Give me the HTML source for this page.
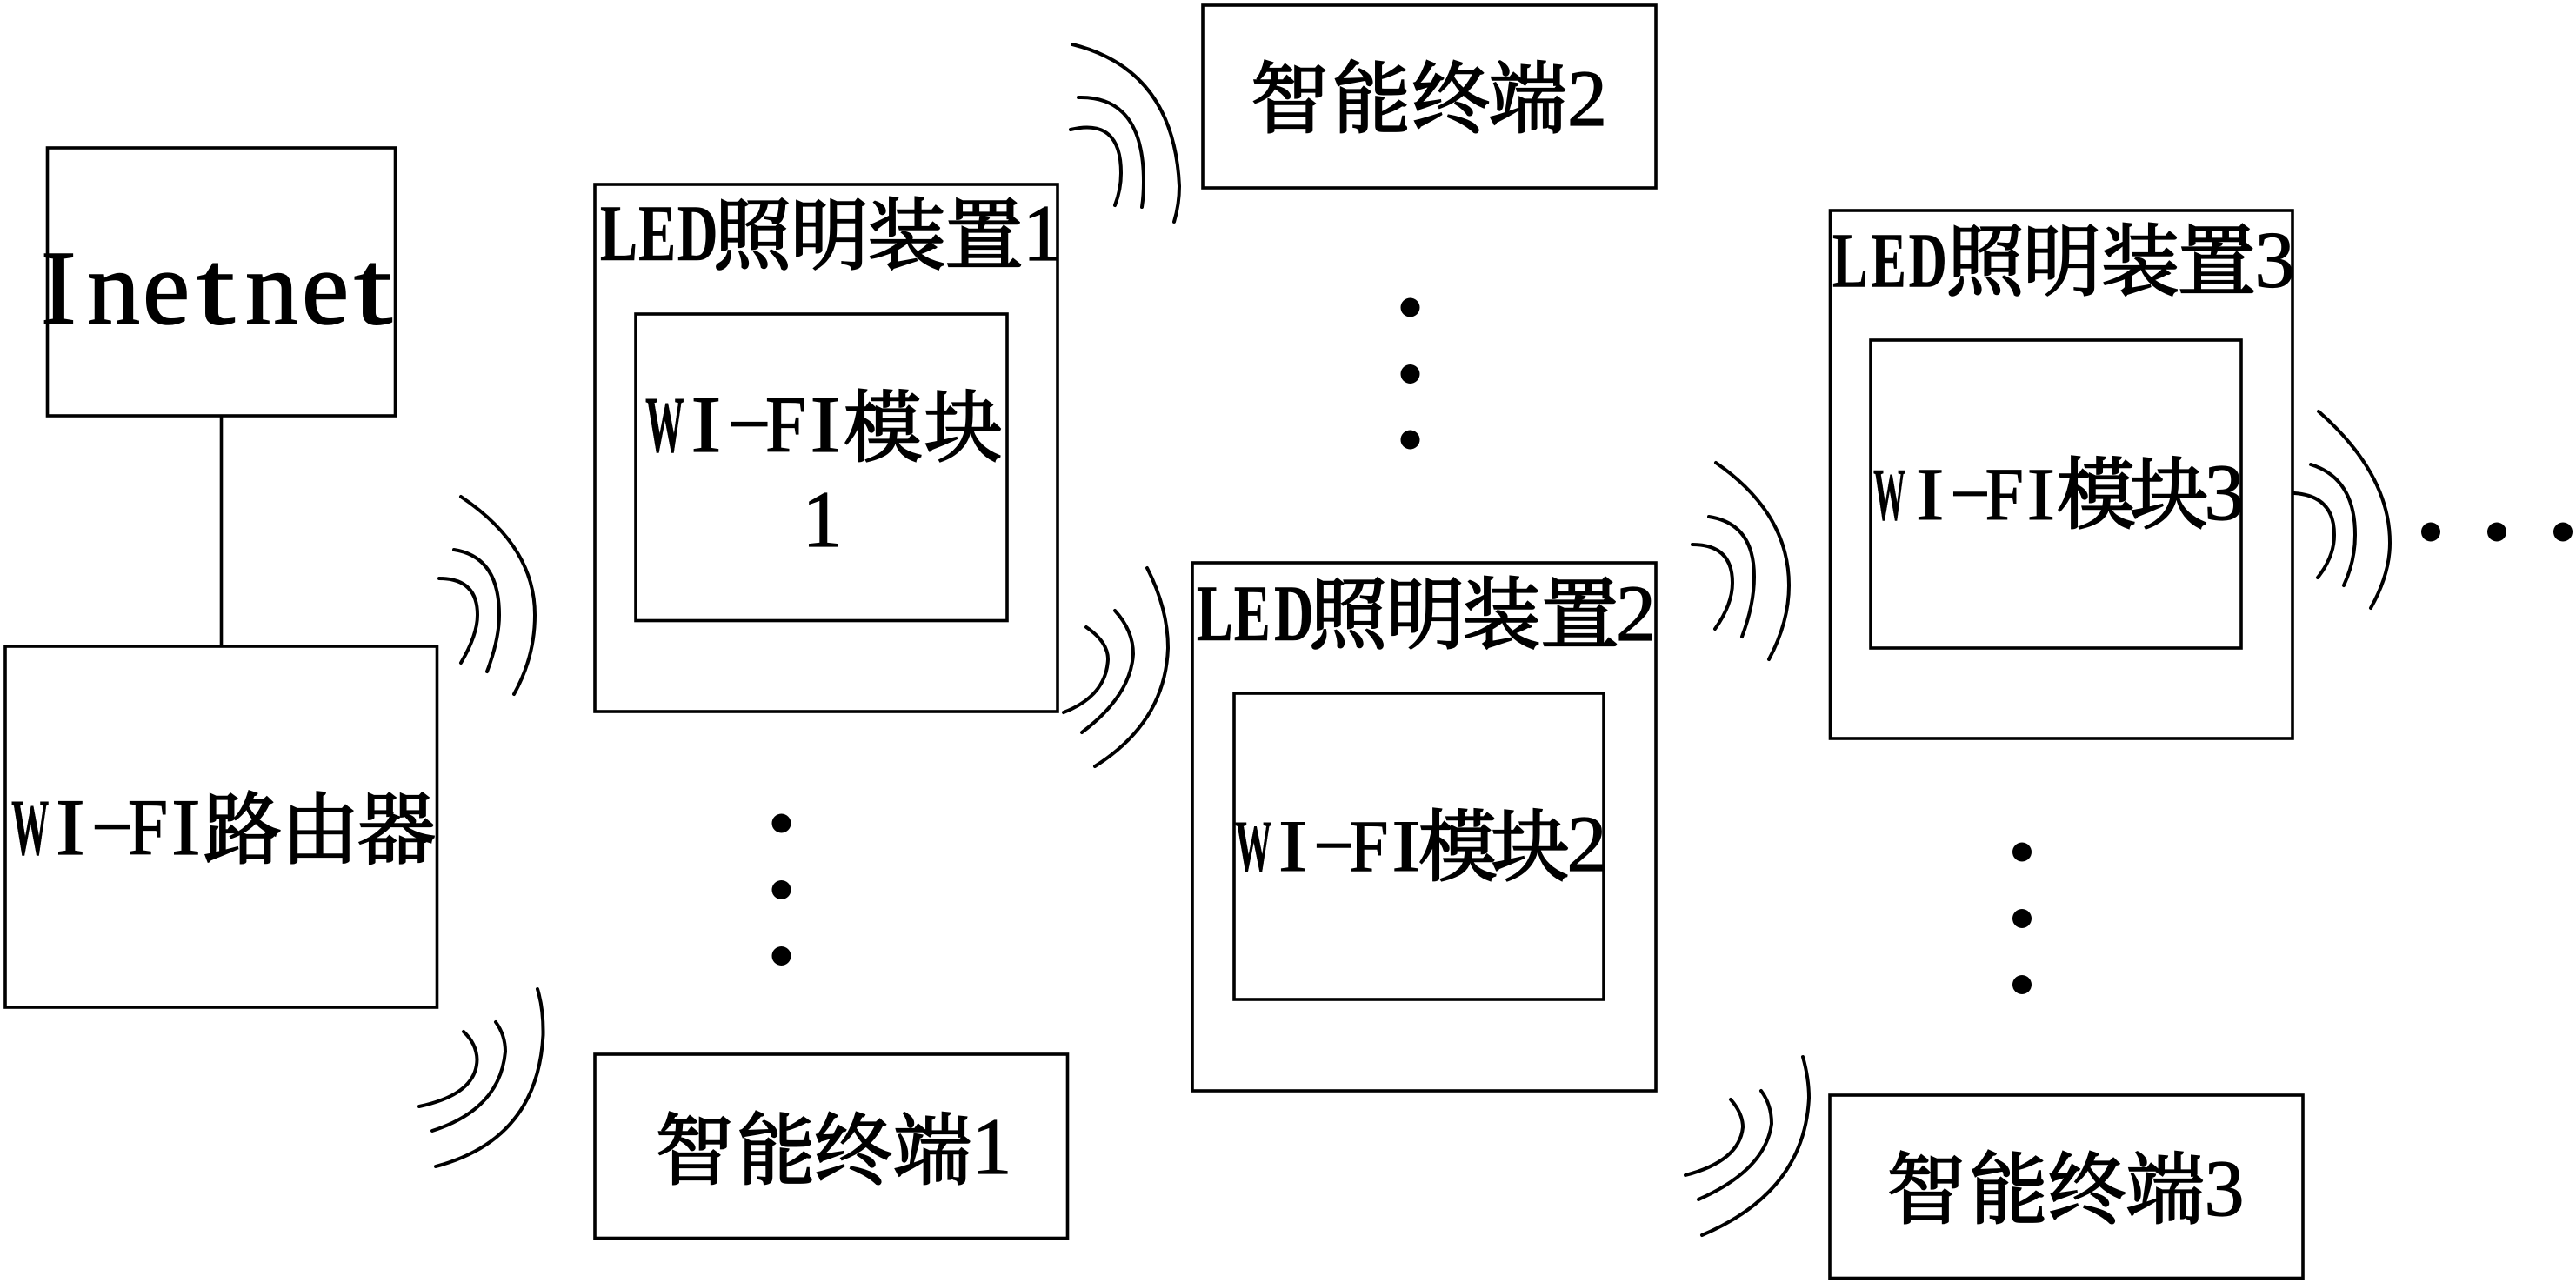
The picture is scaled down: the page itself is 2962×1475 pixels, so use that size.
<!DOCTYPE html>
<html lang="zh">
<head>
<meta charset="utf-8">
<title>LED Wi-Fi diagram</title>
<style>
html,body{margin:0;padding:0;background:#fff;width:2962px;height:1475px;overflow:hidden}
svg{display:block}
.b{fill:none;stroke:#000;stroke-width:3.6}
.a{fill:none;stroke:#000;stroke-width:4;stroke-linecap:round}
.c{font-family:"Noto Serif CJK SC","Liberation Serif",serif;font-size:90px;text-anchor:middle;fill:#000;stroke:#000;stroke-width:2.2}
.l{font-family:"Liberation Serif",serif;font-size:92px;fill:#000;stroke:#000;stroke-width:1.2}
.w{font-weight:bold;stroke-width:.6}
.h{stroke-width:0}
.d{text-anchor:middle}
</style>
</head>
<body>
<svg xmlns="http://www.w3.org/2000/svg" width="2962" height="1475" viewBox="0 0 2962 1475">
<rect width="2962" height="1475" fill="#fff"/>

<!-- boxes -->
<rect class="b" x="54.5" y="170" width="400" height="308"/>
<line class="b" x1="254.5" y1="478" x2="254.5" y2="743"/>
<rect class="b" x="6" y="743" width="496.5" height="415"/>
<rect class="b" x="684" y="212" width="532" height="606"/>
<rect class="b" x="731" y="361" width="427" height="352.5"/>
<rect class="b" x="684" y="1212" width="543.5" height="211.5"/>
<rect class="b" x="1383" y="6" width="521" height="210"/>
<rect class="b" x="1371" y="647" width="533" height="607"/>
<rect class="b" x="1419" y="797" width="425" height="352"/>
<rect class="b" x="2104.5" y="242" width="531.5" height="607"/>
<rect class="b" x="2151" y="391" width="426" height="354"/>
<rect class="b" x="2104" y="1259" width="544" height="210.5"/>

<!-- wave arcs -->
<path class="a" d="M530 571Q615 628 615 707Q615 755 591 798"/>
<path class="a" d="M522 632Q574 640 574 707Q574 735 560 772"/>
<path class="a" d="M505 665Q549 665 549 707Q549 730 530 762"/>

<path class="a" d="M618 1137Q625 1160 624.5 1190Q618 1310 501 1341"/>
<path class="a" d="M570 1175Q581 1190 581 1209Q575 1275 497 1300"/>
<path class="a" d="M533 1186Q548 1200 548.5 1218Q548 1258 482 1272"/>

<path class="a" d="M1233 51Q1350 80 1356 214Q1356 235 1350 255"/>
<path class="a" d="M1240 112Q1315 110 1315 209Q1315 225 1313 238"/>
<path class="a" d="M1231 149Q1289 135 1289 199Q1289 218 1282 236"/>

<path class="a" d="M1319 653Q1343 700 1343 745Q1340 830 1259 881"/>
<path class="a" d="M1282 702Q1303 725 1303 752Q1300 800 1244 842"/>
<path class="a" d="M1249 721Q1274 738 1274 758Q1272 800 1223 819"/>

<path class="a" d="M1973 532Q2057 590 2057 673Q2057 715 2034 758"/>
<path class="a" d="M1965 594Q2017 602 2017 663Q2017 695 2003 732"/>
<path class="a" d="M1946 626Q1992 626 1992 670Q1992 695 1972 723"/>

<path class="a" d="M2666 473Q2748 545 2748 624Q2748 660 2726 699"/>
<path class="a" d="M2657 534Q2708 550 2708 615Q2708 645 2695 673"/>
<path class="a" d="M2638 567Q2684 570 2684 615Q2684 640 2665 664"/>

<path class="a" d="M2073 1215Q2080 1240 2080 1262Q2075 1370 1957 1420"/>
<path class="a" d="M2025 1254Q2037 1270 2037 1292Q2030 1345 1953 1379"/>
<path class="a" d="M1990 1264Q2004 1280 2004 1296Q2000 1335 1938 1351"/>

<!-- dots -->
<g fill="#000">
<circle cx="898.5" cy="946.5" r="11"/><circle cx="898.5" cy="1023" r="11"/><circle cx="898.5" cy="1099" r="11"/>
<circle cx="1621.5" cy="353.5" r="11"/><circle cx="1621.5" cy="430" r="11"/><circle cx="1621.5" cy="505.5" r="11"/>
<circle cx="2325" cy="979.5" r="11"/><circle cx="2325" cy="1056" r="11"/><circle cx="2325" cy="1132" r="11"/>
<circle cx="2795" cy="611.5" r="11"/><circle cx="2871" cy="611.5" r="11"/><circle cx="2947" cy="611.5" r="11"/>
</g>

<!-- Inetnet -->
<g style="font-family:'Liberation Serif',serif;font-size:122px;fill:#000;stroke:#000;stroke-width:1.6">
<text x="47" y="372">I</text>
<text x="100" y="372">n</text>
<text x="164" y="372">e</text>
<text transform="translate(226,372) scale(1.3,1)">t</text>
<text x="282" y="372">n</text>
<text x="347" y="372">e</text>
<text transform="translate(407,372) scale(1.3,1)">t</text>
</g>

<!-- WI-FI router -->
<g transform="translate(13,982)">
<text class="l w" transform="scale(.47,1)">W</text>
<text class="l" transform="translate(51,0) scale(1.1,1)">I</text>
<text class="l h" transform="translate(90,-14) scale(1.7,.8)">-</text>
<text class="l" transform="translate(134,0) scale(.9,1)">F</text>
<text class="l" transform="translate(184,0) scale(1.1,1)">I</text>
</g>
<text class="c" x="279 368 456" y="985">路由器</text>

<!-- LED 1 -->
<text class="l w" transform="translate(690,299) scale(.70,1)" x="0 63 127">LED</text>
<text class="c" x="865 954 1042.5 1131.5" y="302">照明装置</text>
<text class="l d" x="1199" y="299">1</text>
<g transform="translate(742,519) scale(1.03,1)">
<text class="l w" transform="scale(.47,1)">W</text>
<text class="l" transform="translate(51,0) scale(1.1,1)">I</text>
<text class="l h" transform="translate(90,-14) scale(1.7,.8)">-</text>
<text class="l" transform="translate(134,0) scale(.9,1)">F</text>
<text class="l" transform="translate(184,0) scale(1.1,1)">I</text>
</g>
<text class="c" x="1015 1107.5" y="523">模块</text>
<text class="l d" x="945.5" y="628">1</text>

<!-- LED 2 -->
<text class="l w" transform="translate(1376,736) scale(.68,1)" x="0 63 131">LED</text>
<text class="c" x="1550 1639 1726.5 1816.5" y="738">照明装置</text>
<text class="l d" x="1881" y="736">2</text>
<g transform="translate(1420,1001) scale(.98,.92)">
<text class="l w" transform="scale(.47,1)">W</text>
<text class="l" transform="translate(51,0) scale(1.1,1)">I</text>
<text class="l h" transform="translate(90,-14) scale(1.7,.8)">-</text>
<text class="l" transform="translate(134,0) scale(.9,1)">F</text>
<text class="l" transform="translate(184,0) scale(1.1,1)">I</text>
</g>
<text class="c" x="1676 1759.5" y="1005">模块</text>
<text class="l d" x="1824.5" y="1001">2</text>

<!-- LED 3 -->
<text class="l w" transform="translate(2107,329.5) scale(.66,.98)" x="0 67 133">LED</text>
<text class="c" x="2282.5 2371 2461 2549" y="332">照明装置</text>
<text class="l d" x="2615.5" y="329.5">3</text>
<g transform="translate(2154,597) scale(.96,.93)">
<text class="l w" transform="scale(.42,1)">W</text>
<text class="l" transform="translate(51,0) scale(1.1,1)">I</text>
<text class="l h" transform="translate(90,-14) scale(1.7,.8)">-</text>
<text class="l" transform="translate(134,0) scale(.9,1)">F</text>
<text class="l" transform="translate(184,0) scale(1.1,1)">I</text>
</g>
<text class="c" x="2410 2494" y="600">模块</text>
<text class="l d" x="2557.5" y="597">3</text>

<!-- terminals -->
<text class="c" x="798.5 892.5 981 1072" y="1354">智能终端</text>
<text class="l d" x="1140.5" y="1349">1</text>
<text class="c" x="1483 1577 1668 1756.5" y="145">智能终端</text>
<text class="l d" x="1825" y="144">2</text>
<text class="c" x="2214.5 2309.5 2399.5 2489.5" y="1399">智能终端</text>
<text class="l d" x="2557.5" y="1397">3</text>
</svg>
</body>
</html>
